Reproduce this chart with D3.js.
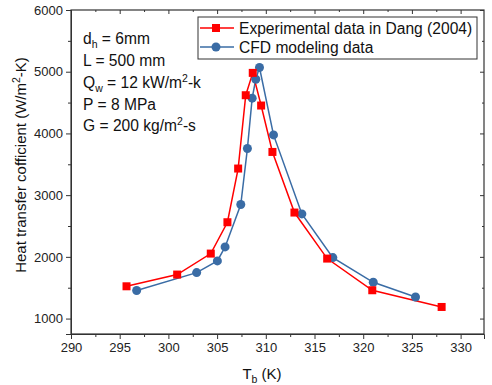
<!DOCTYPE html>
<html>
<head>
<meta charset="utf-8">
<script src="https://cdn.jsdelivr.net/npm/d3@7"></script>
<style>
  body { margin: 0; background: #fff; }
  svg { font-family: "Liberation Sans", Arial, sans-serif; }
</style>
</head>
<body>
<svg width="492" height="385"></svg>
<script>
// experimental data (Dang 2004)
var expT = [295.7, 300.9, 304.35, 306.06, 307.16, 307.94, 308.66, 309.52, 310.68, 312.94, 316.3, 320.93, 328.05];
var expH = [1523, 1713, 2053, 2561, 3431, 4619, 4981, 4452, 3700, 2718, 1972, 1459, 1188];
// CFD modeling data
var cfdT = [296.74, 302.9, 305.03, 305.82, 307.43, 308.11, 308.6, 308.97, 309.35, 310.79, 313.7, 316.88, 321.03, 325.37];
var cfdH = [1454, 1745, 1934, 2161, 2848, 3755, 4571, 4878, 5068, 3976, 2696, 1988, 1588, 1350];

var xTicks = [290, 295, 300, 305, 310, 315, 320, 325, 330];
var yTicks = [1000, 2000, 3000, 4000, 5000, 6000];

var svg = d3.select("svg"),
    margin = {top: 10, right: 8, bottom: 51, left: 71},
    width = +svg.attr("width") - margin.left - margin.right,
    height = +svg.attr("height") - margin.top - margin.bottom;

var red = "#ff0000", blue = "#3a6ca5";

var x = d3.scaleLinear().domain([290, 332.4]).range([0, width]);
var y = d3.scaleLinear().domain([750, 6000]).range([height, 0]);

var g = svg.append("g").attr("transform", "translate(" + margin.left + "," + margin.top + ")");

var xMinor = d3.range(292.5, 332, 5);
var yMinor = d3.range(1500, 6000, 1000);

// bottom axis
var xAxis = g.append("g").attr("transform", "translate(0," + height + ")")
    .call(d3.axisBottom(x).tickValues(xTicks).tickSize(5).tickPadding(4).tickFormat(d3.format("d")));
g.append("g").attr("transform", "translate(0," + height + ")")
    .call(d3.axisBottom(x).tickValues(xMinor).tickSize(3).tickFormat(""))
    .select(".domain").remove();
// left axis
var yAxis = g.append("g")
    .call(d3.axisLeft(y).tickValues(yTicks).tickSize(5).tickPadding(3).tickFormat(d3.format("d")));
g.append("g")
    .call(d3.axisLeft(y).tickValues(yMinor).tickSize(3).tickFormat(""))
    .select(".domain").remove();
// top axis (inward ticks)
g.append("g")
    .call(d3.axisBottom(x).tickValues(xTicks).tickSize(4).tickFormat(""))
    .select(".domain").remove();
g.append("g")
    .call(d3.axisBottom(x).tickValues(xMinor).tickSize(2).tickFormat(""))
    .select(".domain").remove();
// right axis (inward ticks)
g.append("g").attr("transform", "translate(" + width + ",0)")
    .call(d3.axisLeft(y).tickValues(yTicks).tickSize(4).tickFormat(""))
    .select(".domain").remove();
g.append("g").attr("transform", "translate(" + width + ",0)")
    .call(d3.axisLeft(y).tickValues(yMinor).tickSize(2).tickFormat(""))
    .select(".domain").remove();

g.selectAll(".tick text").style("font-size", "13px").style("fill", "#222")
    .style("font-family", "'Liberation Sans', Arial, sans-serif");
g.selectAll(".tick line").style("stroke", "#333");
g.selectAll(".domain").style("stroke", "#333");

// frame
g.append("rect").attr("width", width).attr("height", height)
    .attr("fill", "none").attr("stroke", "#333").attr("stroke-width", 1.2);

var line = d3.line().x(function(d) { return x(d[0]); }).y(function(d) { return y(d[1]); });
var expData = d3.zip(expT, expH), cfdData = d3.zip(cfdT, cfdH);

g.append("path").datum(cfdData).attr("d", line).attr("fill", "none").attr("stroke", blue).attr("stroke-width", 1.5);
g.append("path").datum(expData).attr("d", line).attr("fill", "none").attr("stroke", red).attr("stroke-width", 1.5);

g.selectAll(".cfd").data(cfdData).enter().append("circle")
    .attr("cx", function(d) { return x(d[0]); })
    .attr("cy", function(d) { return y(d[1]); })
    .attr("r", 4.5).attr("fill", blue);
g.selectAll(".exp").data(expData).enter().append("rect")
    .attr("x", function(d) { return x(d[0]) - 4; })
    .attr("y", function(d) { return y(d[1]) - 4; })
    .attr("width", 8).attr("height", 8).attr("fill", red);

// legend
var leg = svg.append("g").attr("transform", "translate(198,17)");
leg.append("rect").attr("width", 279).attr("height", 42).attr("fill", "#fff").attr("stroke", "#333").attr("stroke-width", 1);
var legItems = [
  {label: "Experimental data in Dang (2004)", color: red, shape: "square", y: 11},
  {label: "CFD modeling data", color: blue, shape: "circle", y: 30}
];
legItems.forEach(function(it) {
  leg.append("line").attr("x1", 2).attr("x2", 36).attr("y1", it.y).attr("y2", it.y)
    .attr("stroke", it.color).attr("stroke-width", 1.5);
  if (it.shape == "square")
    leg.append("rect").attr("x", 14).attr("y", it.y - 4).attr("width", 8).attr("height", 8).attr("fill", it.color);
  else
    leg.append("circle").attr("cx", 18).attr("cy", it.y).attr("r", 4.5).attr("fill", it.color);
  leg.append("text").attr("x", 41).attr("y", it.y + 5.5).text(it.label)
    .style("font-size", "15.6px").style("fill", "#111");
});

// annotation
var notes = svg.append("g").attr("transform", "translate(83,0)").style("font-size", "15.6px").style("fill", "#111");
var t1 = notes.append("text").attr("y", 44);
t1.append("tspan").text("d");
t1.append("tspan").attr("dy", 4).style("font-size", "10.5px").text("h");
t1.append("tspan").attr("dy", -4).text(" = 6mm");
notes.append("text").attr("y", 66).text("L = 500 mm");
var t3 = notes.append("text").attr("y", 88);
t3.append("tspan").text("Q");
t3.append("tspan").attr("dy", 4).style("font-size", "10.5px").text("w");
t3.append("tspan").attr("dy", -4).text(" = 12 kW/m");
t3.append("tspan").attr("dy", -6).style("font-size", "10.5px").text("2");
t3.append("tspan").attr("dy", 6).text("-k");
notes.append("text").attr("y", 110).text("P = 8 MPa");
var t5 = notes.append("text").attr("y", 131);
t5.append("tspan").text("G = 200 kg/m");
t5.append("tspan").attr("dy", -6).style("font-size", "10.5px").text("2");
t5.append("tspan").attr("dy", 6).text("-s");

// axis titles
var yt = svg.append("text").attr("transform", "translate(26,165) rotate(-90)")
    .attr("text-anchor", "middle").style("font-size", "15px").style("fill", "#111");
yt.append("tspan").text("Heat transfer cofficient (W/m");
yt.append("tspan").attr("dy", -6).style("font-size", "10.5px").text("2");
yt.append("tspan").attr("dy", 6).text("-K)");

var xt = svg.append("text").attr("x", 262).attr("y", 379)
    .attr("text-anchor", "middle").style("font-size", "15px").style("fill", "#111");
xt.append("tspan").text("T");
xt.append("tspan").attr("dy", 4).style("font-size", "10.5px").text("b");
xt.append("tspan").attr("dy", -4).text(" (K)");
</script>
</body>
</html>
